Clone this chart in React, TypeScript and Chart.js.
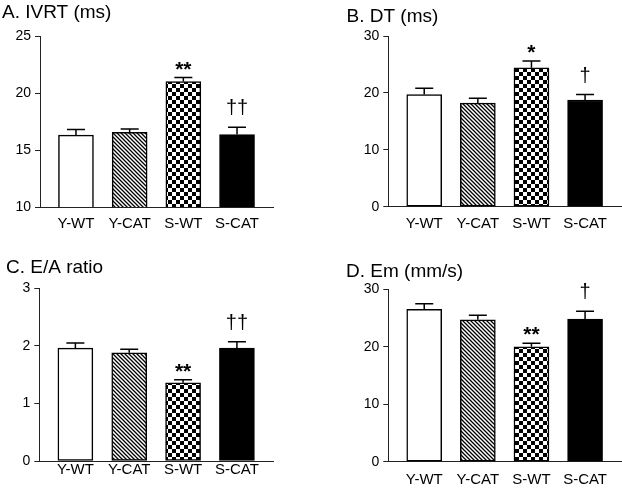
import React, { useEffect, useRef } from 'react';
import { Chart, registerables } from 'chart.js';

Chart.register(...registerables);

// ---- data ----
const groups = ['Y-WT', 'Y-CAT', 'S-WT', 'S-CAT'];

const ivrtMean = [16.3, 16.55, 21.0, 16.35];
const ivrtSem = [0.5, 0.3, 0.35, 0.65];
const ivrtMarks = ['', '', '**', '††'];
const ivrtTicks = [10, 15, 20, 25];

const dtMean = [19.7, 18.2, 24.4, 18.75];
const dtSem = [1.1, 0.85, 1.2, 0.95];
const dtMarks = ['', '', '*', '†'];
const dtTicks = [0, 10, 20, 30];

const eaMean = [1.96, 1.88, 1.36, 1.96];
const eaSem = [0.09, 0.06, 0.05, 0.11];
const eaMarks = ['', '', '**', '††'];
const eaTicks = [0, 1, 2, 3];

const emMean = [26.5, 24.7, 20.0, 24.8];
const emSem = [1.0, 0.8, 0.6, 1.4];
const emMarks = ['', '', '**', '†'];
const emTicks = [0, 10, 20, 30];

const titles = ['A. IVRT (ms)', 'B. DT (ms)', 'C. E/A ratio', 'D. Em (mm/s)'];

// ---- layout / style ----
const FONT = "'Liberation Sans', Arial, Helvetica, sans-serif";
const AXIS = '#222';

type PanelDef = {
  title: string;
  mean: number[];
  sem: number[];
  marks: string[];
  ticks: number[];
  left: number;
  top: number;
  w: number;
  h: number;
  padL: number;
  padR: number;
  yW: number;
  xH: number;
  xPad: number;
  tTop: number;
  tBottom: number;
};

const panels: PanelDef[] = [
  { title: titles[0], mean: ivrtMean, sem: ivrtSem, marks: ivrtMarks, ticks: ivrtTicks,
    left: 0, top: 0, w: 311, h: 245, padL: 2, padR: 38, yW: 38, xH: 38, xPad: 8, tTop: 1.1, tBottom: 12.1 },
  { title: titles[1], mean: dtMean, sem: dtSem, marks: dtMarks, ticks: dtTicks,
    left: 311, top: 0, w: 311, h: 245, padL: 35.5, padR: 1, yW: 41.8, xH: 38.3, xPad: 8.4, tTop: 5.3, tBottom: 7.9 },
  { title: titles[2], mean: eaMean, sem: eaSem, marks: eaMarks, ticks: eaTicks,
    left: 0, top: 245, w: 311, h: 244, padL: 6, padR: 38, yW: 33.3, xH: 28, xPad: 0, tTop: 11.3, tBottom: 9.2 },
  { title: titles[3], mean: emMean, sem: emSem, marks: emMarks, ticks: emTicks,
    left: 311, top: 245, w: 311, h: 244, padL: 35, padR: 1, yW: 42.3, xH: 27.3, xPad: 9, tTop: 15.3, tBottom: 6.2 },
];

function makeHatch(): CanvasPattern | string {
  const c = document.createElement('canvas');
  c.width = 4;
  c.height = 4;
  const g = c.getContext('2d');
  if (!g) return '#888';
  g.fillStyle = '#fff';
  g.fillRect(0, 0, 4, 4);
  g.strokeStyle = '#000';
  g.lineWidth = 1.3;
  g.beginPath();
  g.moveTo(-1, -1); g.lineTo(5, 5);
  g.moveTo(3, -1); g.lineTo(5, 1);
  g.moveTo(-1, 3); g.lineTo(1, 5);
  g.stroke();
  return g.createPattern(c, 'repeat') || '#888';
}

function makeChecker(): CanvasPattern | string {
  const c = document.createElement('canvas');
  c.width = 8;
  c.height = 8;
  const g = c.getContext('2d');
  if (!g) return '#777';
  g.fillStyle = '#fff';
  g.fillRect(0, 0, 8, 8);
  g.fillStyle = '#000';
  g.fillRect(0, 0, 4, 4);
  g.fillRect(4, 4, 4, 4);
  return g.createPattern(c, 'repeat') || '#777';
}

const errorBarPlugin = {
  id: 'errorBars',
  afterDatasetsDraw(chart: any, _args: any, opts: any) {
    const { ctx } = chart;
    const yScale = chart.scales.y;
    const meta = chart.getDatasetMeta(0);
    const mean: number[] = opts.mean;
    const sem: number[] = opts.sem;
    const marks: string[] = opts.marks;
    ctx.save();
    ctx.strokeStyle = '#000';
    ctx.lineWidth = 1.5;
    meta.data.forEach((el: any, i: number) => {
      const x = el.x;
      const yBar = yScale.getPixelForValue(mean[i]);
      const yTop = yScale.getPixelForValue(mean[i] + sem[i]);
      ctx.beginPath();
      ctx.moveTo(x, yBar);
      ctx.lineTo(x, yTop);
      ctx.moveTo(x - 9, yTop);
      ctx.lineTo(x + 9, yTop);
      ctx.stroke();
      const m = marks[i];
      if (m) {
        ctx.fillStyle = '#000';
        ctx.textAlign = 'center';
        ctx.textBaseline = 'alphabetic';
        if (m.includes('*')) {
          ctx.font = `bold 21px ${FONT}`;
          ctx.fillText(m, x, yTop - 2);
        } else {
          ctx.font = `20px ${FONT}`;
          ctx.fillText(m, x, yTop - 13);
        }
      }
    });
    ctx.restore();
  },
};

function Panel({ p }: { p: PanelDef }) {
  const ref = useRef<HTMLCanvasElement | null>(null);
  useEffect(() => {
    if (!ref.current) return;
    const hatch = makeHatch();
    const checker = makeChecker();
    const yMin = p.ticks[0];
    const yMax = p.ticks[p.ticks.length - 1];
    const chart = new Chart(ref.current, {
      type: 'bar',
      data: {
        datasets: [
          {
            data: p.mean.map((y, i) => ({ x: i, y })),
            backgroundColor: ['#ffffff', hatch, checker, '#000000'] as any,
            borderColor: '#000',
            borderWidth: 1.5,
            borderSkipped: false,
            barThickness: 35,
          },
        ],
      },
      options: {
        responsive: false,
        animation: false,
        events: [],
        layout: { padding: { left: p.padL, right: p.padR, top: 0, bottom: 0 } },
        plugins: {
          legend: { display: false },
          tooltip: { enabled: false },
          title: {
            display: true,
            text: p.title,
            align: 'start',
            color: '#000',
            font: { family: FONT, size: 19, weight: 'normal' },
            padding: { top: p.tTop, bottom: p.tBottom },
          },
          errorBars: { mean: p.mean, sem: p.sem, marks: p.marks },
        } as any,
        scales: {
          x: {
            type: 'linear',
            offset: false,
            min: -0.67,
            max: 3.67,
            bounds: 'ticks',
            afterBuildTicks: (s: any) => {
              s.ticks = groups.map((_, i) => ({ value: i }));
            },
            afterFit: (s: any) => {
              s.height = p.xH;
            },
            grid: { display: false, drawTicks: false, offset: false },
            border: { display: true, color: AXIS, width: 1 },
            ticks: {
              color: '#000',
              font: { family: FONT, size: 15 },
              padding: p.xPad,
              maxRotation: 0,
              autoSkip: false,
              callback: (v: any) => groups[Math.round(Number(v))] ?? '',
            },
          },
          y: {
            type: 'linear',
            min: yMin,
            max: yMax,
            afterBuildTicks: (s: any) => {
              s.ticks = p.ticks.map((v) => ({ value: v }));
            },
            afterFit: (s: any) => {
              s.width = p.yW;
            },
            grid: { display: true, drawOnChartArea: false, drawTicks: true, tickLength: 5, color: AXIS, lineWidth: 1 },
            border: { display: true, color: AXIS, width: 1 },
            ticks: {
              color: '#000',
              font: { family: FONT, size: 14 },
              padding: 4,
            },
          },
        },
      } as any,
      plugins: [errorBarPlugin],
    });
    return () => chart.destroy();
  }, [p]);
  return (
    <canvas
      ref={ref}
      width={p.w}
      height={p.h}
      style={{ position: 'absolute', left: p.left, top: p.top, width: p.w, height: p.h, display: 'block' }}
    />
  );
}

export default function App() {
  return (
    <div style={{ position: 'absolute', left: 0, top: 0, width: 622, height: 489, background: '#fff', overflow: 'hidden' }}>
      {panels.map((p) => (
        <Panel key={p.title} p={p} />
      ))}
    </div>
  );
}
